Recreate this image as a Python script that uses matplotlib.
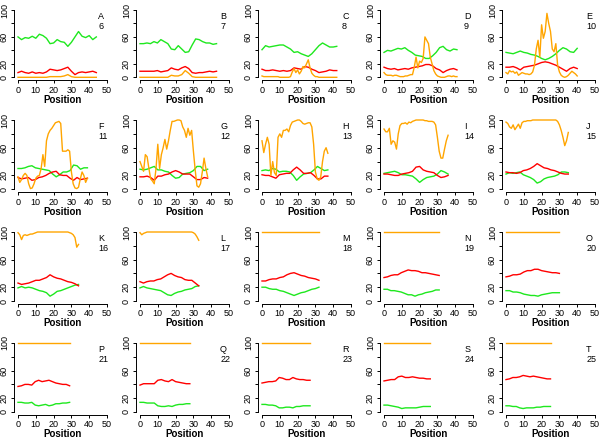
import numpy as np
import matplotlib
matplotlib.use('Agg')
import matplotlib.pyplot as plt

plt.rcParams['font.family'] = ['Liberation Sans', 'DejaVu Sans']

letters = ['A', 'B', 'C', 'D', 'E', 'F', 'G', 'H', 'I', 'J',
           'K', 'L', 'M', 'N', 'O', 'P', 'Q', 'R', 'S', 'T']
numbers = [6, 7, 8, 9, 10, 11, 12, 13, 14, 15,
           16, 17, 18, 19, 20, 21, 22, 23, 24, 25]
# last position of each panel
ends = [44, 43, 42, 41, 40, 39, 38, 37, 36, 35,
        34, 33, 32, 31, 30, 29, 28, 27, 26, 25]

green = [
    [60, 56, 59, 58, 61, 58, 64, 62, 58, 50, 51, 56, 53, 52, 46, 52, 60, 68, 61, 59, 62, 56, 60],
    [50, 50, 51, 50, 53, 51, 56, 53, 50, 42, 41, 47, 42, 37, 38, 48, 57, 56, 53, 51, 51, 49, 50],
    [41, 47, 45, 46, 47, 48, 48, 45, 42, 37, 38, 35, 33, 31, 35, 41, 47, 51, 48, 45, 45, 46],
    [37, 40, 39, 41, 43, 42, 44, 40, 37, 33, 32, 31, 28, 28, 32, 37, 44, 46, 41, 39, 42, 41],
    [37, 36, 35, 37, 39, 37, 36, 34, 33, 31, 28, 26, 28, 31, 35, 40, 44, 42, 38, 37, 43],
    [30, 30, 31, 33, 34, 31, 30, 29, 28, 27, 22, 18, 21, 25, 25, 27, 35, 34, 29, 31, 31],
    [29, 28, 29, 31, 33, 28, 28, 26, 25, 20, 16, 17, 22, 23, 24, 27, 33, 33, 27, 29],
    [27, 28, 27, 30, 29, 25, 26, 26, 25, 20, 13, 18, 22, 23, 24, 28, 33, 30, 27, 28],
    [23, 24, 25, 26, 24, 21, 21, 20, 19, 15, 10, 14, 17, 18, 19, 22, 27, 25, 22],
    [22, 24, 23, 24, 25, 21, 19, 17, 14, 9, 11, 15, 17, 18, 19, 21, 25, 25, 24],
    [19, 21, 19, 20, 19, 17, 15, 14, 12, 7, 10, 14, 15, 17, 19, 21, 23, 24],
    [19, 21, 19, 18, 17, 16, 15, 12, 9, 8, 11, 13, 14, 16, 17, 18, 21, 22],
    [20, 20, 18, 17, 17, 15, 14, 12, 10, 8, 10, 12, 13, 15, 17, 18, 20],
    [17, 17, 15, 15, 14, 13, 11, 9, 9, 7, 9, 10, 12, 13, 14, 16, 16],
    [15, 15, 13, 13, 12, 10, 9, 8, 8, 7, 9, 10, 11, 12, 12, 12],
    [14, 14, 13, 13, 14, 10, 9, 10, 11, 9, 10, 12, 12, 13, 13, 14],
    [14, 14, 13, 13, 13, 9, 8, 8, 9, 8, 10, 11, 11, 12, 12],
    [11, 11, 10, 10, 9, 6, 6, 7, 7, 6, 8, 8, 9, 9, 9],
    [10, 10, 9, 8, 7, 5, 6, 6, 6, 6, 7, 8, 8, 8],
    [9, 9, 8, 8, 6, 5, 6, 6, 6, 7, 7, 8, 8, 8],
]

red = [
    [7, 9, 7, 6, 8, 6, 7, 6, 8, 12, 11, 10, 11, 13, 15, 9, 4, 7, 8, 7, 8, 9, 7],
    [9, 9, 9, 9, 9, 10, 8, 9, 10, 14, 12, 11, 14, 16, 13, 7, 6, 7, 7, 8, 9, 8, 9],
    [12, 10, 10, 11, 10, 9, 10, 9, 10, 14, 13, 12, 16, 15, 12, 10, 7, 8, 9, 11, 10, 10],
    [15, 13, 12, 13, 11, 12, 13, 12, 14, 15, 16, 17, 19, 19, 17, 13, 11, 7, 10, 12, 13, 11],
    [15, 15, 16, 14, 11, 15, 16, 17, 18, 20, 22, 23, 22, 20, 18, 15, 12, 9, 13, 15, 13],
    [17, 15, 16, 17, 13, 14, 17, 18, 20, 23, 25, 26, 21, 20, 20, 16, 13, 17, 14, 15, 16],
    [18, 18, 19, 17, 13, 19, 19, 21, 22, 25, 27, 25, 22, 22, 22, 18, 14, 14, 17, 16],
    [21, 20, 20, 18, 16, 21, 22, 23, 23, 28, 32, 28, 23, 23, 24, 20, 15, 15, 19, 19],
    [22, 22, 21, 20, 20, 22, 23, 24, 26, 32, 33, 28, 26, 25, 24, 20, 17, 18, 20],
    [25, 24, 24, 23, 24, 27, 28, 30, 33, 37, 34, 31, 30, 28, 27, 25, 23, 22, 22],
    [26, 24, 25, 26, 28, 30, 30, 32, 34, 38, 35, 33, 32, 30, 28, 27, 25, 22],
    [28, 26, 28, 29, 29, 31, 32, 35, 38, 40, 37, 35, 34, 31, 30, 30, 26, 22],
    [29, 29, 31, 32, 32, 34, 35, 38, 40, 41, 39, 37, 36, 34, 33, 32, 30],
    [34, 35, 37, 38, 38, 41, 43, 45, 44, 44, 43, 41, 41, 40, 39, 38, 37],
    [35, 36, 38, 38, 39, 42, 44, 44, 46, 46, 44, 43, 42, 41, 41, 40],
    [37, 38, 40, 40, 39, 44, 46, 44, 45, 46, 44, 42, 41, 40, 40, 38],
    [39, 41, 41, 41, 41, 46, 47, 45, 44, 47, 44, 43, 42, 41, 41],
    [42, 43, 44, 44, 45, 50, 49, 47, 47, 50, 48, 47, 47, 46, 46],
    [45, 46, 47, 47, 51, 52, 50, 50, 51, 50, 49, 49, 48, 48],
    [47, 48, 50, 50, 51, 53, 52, 51, 52, 51, 50, 49, 48, 48],
]

orange = [
    [0, 0, 0, 0, 0, 0, 0, 0, 0, 1, 1, 1, 1, 2, 4, 1, 0, 0, 0, 0, 0, 0, 0],
    [0, 0, 0, 0, 0, 0, 0, 0, 0, 3, 2, 2, 4, 10, 6, 1, 0, 0, 0, 0, 0, 0, 0],
    [2, 1, 1, 1, 1, 1, 1, 1, 1, 1, 0, 0, 0, 0, 0, 0, 1, 8, 13, 7, 11, 5, 9, 16, 14, 20,
     26, 14, 6, 3, 1, 1, 0, 0, 0, 0, 0, 0, 0, 0, 0, 0, 0],
    [7, 4, 3, 3, 3, 2, 3, 3, 2, 1, 1, 1, 2, 2, 3, 4, 4, 15, 30, 14, 24, 22, 28, 60, 55, 50,
     30, 20, 10, 5, 2, 1, 0, 0, 0, 1, 2, 2, 1, 2, 1, 1],
    [7, 5, 10, 8, 9, 6, 8, 3, 5, 7, 6, 5, 5, 4, 5, 8, 18, 42, 55, 30, 78, 58, 68, 95, 80, 68,
     42, 38, 50, 18, 8, 3, 1, 0, 1, 3, 6, 9, 7, 5, 2],
    [18, 10, 14, 20, 23, 20, 8, 1, 2, 8, 16, 19, 20, 30, 50, 33, 70, 80, 85, 88, 92, 96, 97,
     98, 95, 55, 55, 55, 57, 55, 25, 8, 2, 1, 3, 15, 25, 20, 10, 16],
    [40, 33, 26, 50, 47, 30, 15, 12, 8, 30, 65, 30, 50, 60, 72, 58, 70, 85, 98, 98, 99, 100,
     100, 99, 90, 85, 75, 88, 78, 85, 55, 28, 5, 3, 8, 25, 45, 30, 18],
    [70, 53, 65, 75, 65, 20, 40, 24, 20, 75, 80, 75, 85, 85, 87, 83, 92, 97, 98, 99, 100, 100,
     98, 95, 94, 95, 96, 96, 90, 65, 25, 15, 13, 18, 40, 55, 60, 52],
    [87, 83, 83, 88, 65, 70, 68, 58, 80, 92, 95, 95, 96, 94, 97, 96, 98, 99, 100, 100, 100,
     100, 100, 99, 99, 98, 98, 98, 97, 93, 75, 55, 45, 45, 58, 70, 78],
    [97, 95, 90, 88, 93, 86, 90, 94, 88, 96, 98, 98, 99, 99, 99, 100, 100, 100, 100, 100, 100,
     100, 100, 100, 100, 100, 100, 100, 100, 98, 93, 85, 75, 63, 70, 82],
    [99, 96, 89, 95, 96, 95, 96, 97, 97, 98, 99, 100, 100, 100, 100, 100, 100, 100, 100, 100,
     100, 100, 100, 100, 100, 100, 100, 100, 100, 99, 98, 96, 92, 78, 82],
    [99, 96, 98, 99, 100, 100, 100, 100, 100, 100, 100, 100, 100, 100, 100, 100, 100, 100,
     100, 100, 100, 100, 100, 100, 100, 100, 100, 100, 100, 100, 99, 97, 93, 88],
    [100, 100], [100, 100], [100, 100], [100, 100],
    [100, 100], [100, 100], [100, 100], [100, 100],
]

W, H = 600, 442
fig = plt.figure(figsize=(6, 4.42), dpi=100)

# pixel positions of y=100 and y=0 per row
row_top = [10, 120, 232, 343]
row_bot = [77.3, 189.3, 301, 412]

for i in range(20):
    r, c = divmod(i, 5)
    x0 = 18 + 122 * c
    sx = 89 / 50.0
    sy = (row_bot[r] - row_top[r]) / 100.0
    left = x0 - 2 * sx
    top = row_top[r] - 4 * sy
    width = 54 * sx
    height = 108 * sy
    ax = fig.add_axes([left / W, 1 - (top + height) / H, width / W, height / H])

    for vals, col in [(green[i], '#1ee81e'), (red[i], '#ff0000'), (orange[i], '#ffa500')]:
        x = np.linspace(0, ends[i], len(vals))
        ax.plot(x, vals, color=col, lw=1.0)

    ax.set_xlim(-2, 52)
    ax.set_ylim(-4, 104)
    ax.set_xticks([0, 10, 20, 30, 40, 50])
    ax.set_yticks([0, 20, 40, 60, 80, 100])
    ax.set_yticklabels(['0', '20', '', '60', '', '100'])
    for s in ['top', 'right']:
        ax.spines[s].set_visible(False)
    ax.spines['left'].set_bounds(0, 100)
    ax.spines['bottom'].set_bounds(0, 50)
    for s in ['left', 'bottom']:
        ax.spines[s].set_linewidth(0.7)
    ax.tick_params(length=2.5, width=0.7, labelsize=6.5, pad=1.5)
    ax.tick_params(axis='y', labelrotation=90)
    for lab in ax.get_yticklabels():
        lab.set_va('center')
    ax.set_xlabel('Position', fontsize=7, fontweight='bold', labelpad=0)
    ax.patch.set_alpha(0)

    ax.text(45, 91, letters[i], fontsize=6.5, va='center')
    ax.text(45, 76, str(numbers[i]), fontsize=6.5, va='center')

fig.savefig('out.png', dpi=100)
